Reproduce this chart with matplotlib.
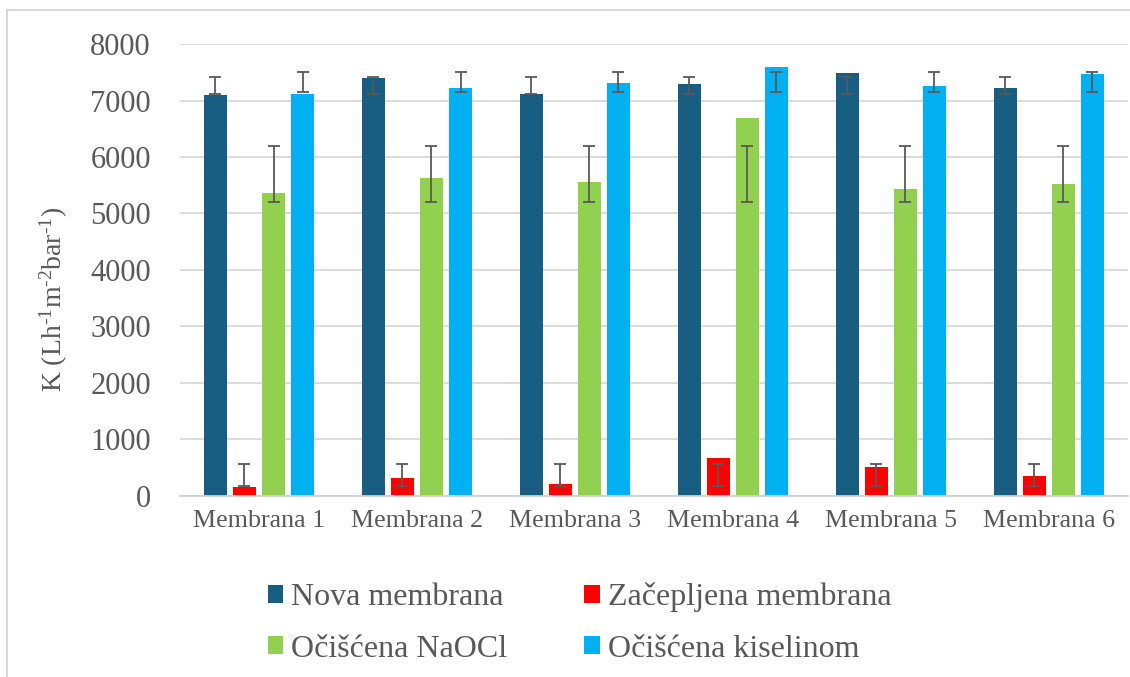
import numpy as np
import matplotlib
matplotlib.use("Agg")
import matplotlib.pyplot as plt
from matplotlib.patches import Rectangle

# podaci (ocitano sa slike)
membrane = ['Membrana 1', 'Membrana 2', 'Membrana 3', 'Membrana 4', 'Membrana 5', 'Membrana 6']
nova = [7100, 7390, 7110, 7285, 7485, 7225]
zacepljena = [150, 325, 210, 665, 510, 345]
naocl = [5365, 5630, 5555, 6690, 5440, 5530]
kiselina = [7110, 7225, 7315, 7590, 7250, 7475]

serije = ['Nova membrana', 'Začepljena membrana', 'Očišćena NaOCl', 'Očišćena kiselinom']
boje = ['#175E82', '#FF0000', '#92D050', '#00B0F0']

plt.rcParams['font.family'] = ['Liberation Serif', 'DejaVu Serif']
plt.rcParams['mathtext.fontset'] = 'custom'
plt.rcParams['mathtext.rm'] = 'Liberation Serif'
plt.rcParams['mathtext.it'] = 'Liberation Serif:italic'

siva = '#595959'

fig = plt.figure(figsize=(11.3, 6.77), dpi=100)
ax = fig.add_axes([0.1593, 0.2674, 0.8387, 0.6676])

# okvir grafikona (kao u Excelu)
fig.patches.append(Rectangle((7 / 1130, -0.1), 1.2, 1 - 10 / 677 + 0.1,
                             transform=fig.transFigure, fill=False,
                             edgecolor='#D9D9D9', linewidth=1.5))

x = np.arange(len(membrane))
sirina = 0.146
korak = 0.184

for i, (vrijednosti, naziv, boja) in enumerate(zip([nova, zacepljena, naocl, kiselina], serije, boje)):
    pomak = (i - 1.5) * korak
    ax.bar(x + pomak, vrijednosti, width=sirina, color=boja, label=naziv, zorder=2)
    # greske: prosjek +/- standardna devijacija serije (isti za sve stupce)
    v = np.array(vrijednosti, dtype=float)
    sred = np.full(len(v), v.mean())
    sd = v.std(ddof=1)
    ax.errorbar(x + pomak, sred, yerr=sd, fmt='none', ecolor=siva,
                elinewidth=1.3, capsize=4.5, capthick=1.3, zorder=3)

ax.set_xlim(-0.5, len(membrane) - 0.5)
ax.set_ylim(0, 8000)
ax.set_yticks(np.arange(0, 8001, 1000))
ax.set_xticks(x)
ax.set_xticklabels(membrane)

ax.yaxis.grid(True, color='#D9D9D9', linewidth=1.3, zorder=0)
ax.set_axisbelow(True)
for s in ['top', 'right', 'left']:
    ax.spines[s].set_visible(False)
ax.spines['bottom'].set_color('#D0D0D0')
ax.spines['bottom'].set_linewidth(1.3)

ax.tick_params(axis='y', length=0, pad=21, labelsize=22, labelcolor=siva)
ax.tick_params(axis='x', length=0, pad=10, labelsize=18.7, labelcolor=siva)

ax.set_ylabel('K (Lh$^{\u2010 1}$m$^{\u2010 2}$bar$^{\u2010 1}$)', fontsize=20, color=siva)
ax.yaxis.set_label_coords(-0.116, 0.436)

h, l = ax.get_legend_handles_labels()
redoslijed = [0, 2, 1, 3]
fig.legend([h[k] for k in redoslijed], [l[k] for k in redoslijed],
           loc='center', bbox_to_anchor=(0.513, 0.080), ncol=2, frameon=False,
           fontsize=23, labelcolor=siva, handlelength=0.5, handleheight=0.5,
           handletextpad=0.25, columnspacing=2.4, labelspacing=0.7)

plt.savefig('out.png', dpi=100)
